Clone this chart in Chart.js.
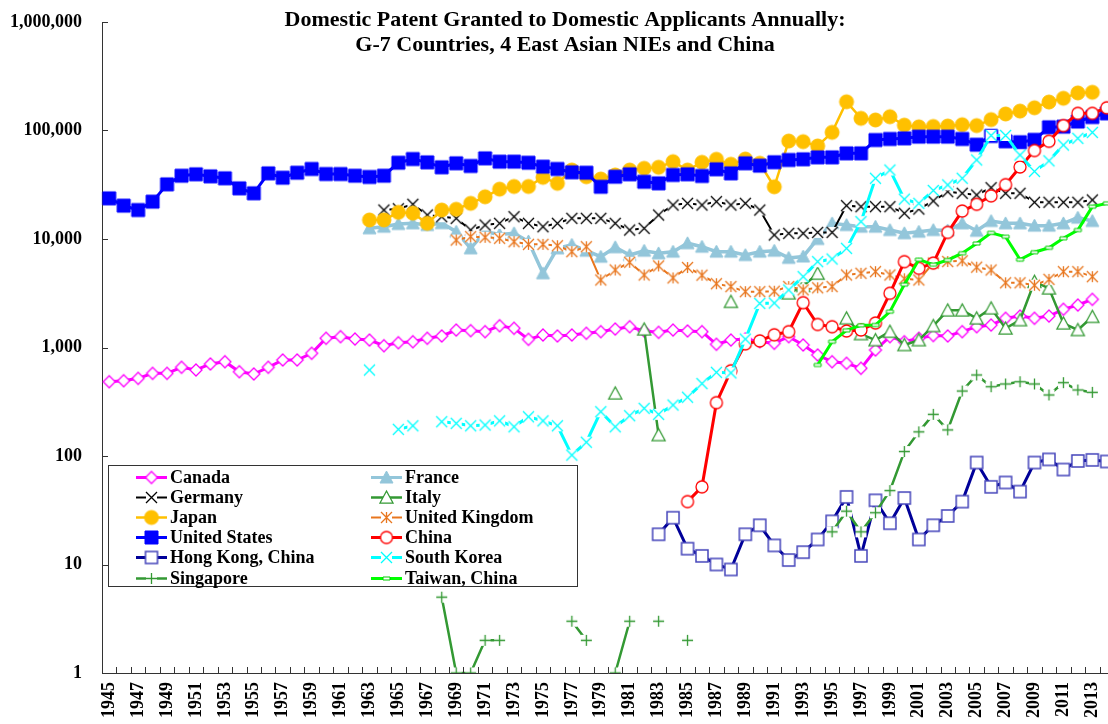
<!DOCTYPE html>
<html lang="en">
<head>
<meta charset="UTF-8">
<title>Domestic Patent Granted to Domestic Applicants Annually</title>
<style>
  html, body { margin: 0; padding: 0; background: #fff; overflow: hidden; }
</style>
</head>
<body>
<!-- plot runs a few pixels past the right edge of the window, as in the original -->
<canvas id="myChart" width="1114" height="724"></canvas>

<script src="https://cdn.jsdelivr.net/npm/chart.js"></script>
<script>
// years on the x axis
const years = [];
for (let y = 1945; y <= 2014; y++) years.push(String(y));

const yTicks = [1, 10, 100, 1000, 10000, 100000, 1000000];

// values; each list starts at the year given in fromYear()
const canada = [484, 494, 520, 578, 578, 657, 621, 705, 740, 598,
  570, 657, 767, 767, 884, 1216, 1258, 1197, 1172, 1039,
  1107, 1130, 1216, 1277, 1449, 1429, 1399, 1588, 1503, 1189,
  1304, 1277, 1304, 1352, 1400, 1480, 1555, 1420, 1380, 1449,
  1420, 1400, 1070, 1172, 1200, 1130, 1093, 1258, 1055, 853,
  740, 715, 643, 948, 1258, 1130, 1216, 1290, 1277, 1399,
  1555, 1610, 1859, 1951, 1859, 1951, 2249, 2464, 2780];
const france = [12550, 12980, 13750, 13950, 13450, 14000, 11670, 8200, 11670, 11000,
  11300, 9500, 4830, 8200, 8840, 7800, 6870, 8400, 7120, 7800,
  7380, 7640, 9140, 8490, 7640, 7640, 7120, 7640, 7800, 6700,
  6900, 10000, 13950, 13450, 12980, 12980, 12100, 11300, 11670, 12100,
  12000, 13950, 11900, 14660, 13950, 13950, 13270, 13270, 13950, 15730, 14660];
const germany = [18500, 19000, 20900, 16640, 16050, 15510, 12100, 13450, 13950, 16050,
  13950, 12980, 13950, 15510, 15510, 15510, 13950, 12100, 12540, 16640,
  20560, 21300, 20560, 22100, 20560, 21300, 18500, 10890, 11270, 11270,
  11500, 11500, 20300, 19860, 19860, 19860, 17260, 18900, 22400, 27300,
  26400, 25450, 29700, 26400, 26400, 21800, 21800, 21800, 21800, 22900];
const italy = [378, null, 1470, 156, null, null, null, null, 2640, null,
  null, null, 3160, 3700, 4800, null, 1860, 1330, 1170, 1400,
  1055, 1170, 1580, 2200, 2200, 1860, 2300, 1500, 1790, 4040,
  3510, 1670, 1450, 1920];
const japan = [14970, 15000, 17600, 17300, 13950, 18500, 18800, 21300, 24500, 28800,
  30500, 30500, 37000, 32600, 43200, 37500, 35700, 38900, 43200, 44800,
  45800, 51600, 43200, 50900, 54300, 48800, 54600, 49900, 30300, 80000,
  78900, 72000, 96200, 184000, 129500, 125000, 134000, 112000, 108000, 109000,
  110000, 113000, 111000, 126000, 142000, 151000, 162000, 183000, 198000, 222000, 225000];
const unitedKingdom = [9790, 10510, 10370, 10150, 9440, 8930, 8930, 8670, 7640, 8490,
  4190, 5180, 6100, 4660, 5650, 4380, 5460, 4640, 3870, 3640,
  3270, 3270, 3300, 3640, 3400, 3550, 3640, 4660, 4830, 5000,
  4660, 4300, 4190, 6000, 6200, 6300, 5500, 5180, 3950, 3950,
  3750, 4250, 5000, 5000, 4500];
const unitedStates = [23700, 20300, 18500, 22100, 31900, 38300, 39500, 37800, 36300, 29300,
  26400, 40300, 36700, 40800, 44200, 39700, 39700, 38300, 37300, 38300,
  50500, 54600, 50900, 45800, 49900, 47100, 55400, 51600, 51600, 50500,
  46400, 44200, 41200, 40800, 30300, 37500, 39500, 33700, 32600, 38900,
  39500, 38100, 43900, 40300, 49900, 47400, 51000, 53500, 54300, 56600,
  56600, 61600, 61600, 81700, 83500, 84700, 87700, 87700, 87700, 83500,
  74000, 89000, 79500, 78000, 82000, 107000, 108500, 121000, 133000, 144000];
const china = [38, 52, 310, 610, 1080, 1150, 1310, 1400, 2590, 1630,
  1555, 1420, 1450, 1680, 3160, 6180, 5370, 6000, 11500, 18100,
  20900, 25000, 31700, 46100, 65400, 79500, 111000, 144000, 144000, 162000];
const hongKong = [19, 27, 14, 12, 10, 9, 19, 23, 15, 11,
  13, 17, 25, 42, 12, 39, 24, 41, 17, 23,
  28, 38, 87, 52, 57, 47, 87, 93, 75, 90, 92, 89];
const southKorea = [620, null, 176, 190, null, 207, 200, 190, 193, 211,
  186, 230, 211, 190, 102, 134, 256, 186, 235, 275,
  242, 295, 348, 465, 590, 583, 1195, 2550, 2570, 3390,
  4500, 6180, 6540, 8200, 14450, 36300, 43200, 23300, 21300, 28000,
  31500, 36300, 53500, 90000, 90000, 59400, 42000, 52500, 73500, 84700, 96000];
const singapore = [5, 1, 1, 2, 2, null, null, null, null, 3,
  2, null, 1, 3, null, 3, null, 2, null, null,
  null, null, null, null, null, null, null, 20, 31, 20,
  30, 48, 110, 167, 242, 174, 397, 558, 435, 461,
  484, 461, 365, 474, 406, 386];
const taiwan = [690, 1130, 1440, 1600, 1610, 2140, 3800, 6450, 5800, 6400,
  7400, 9100, 11400, 10500, 6450, 7550, 8300, 10150, 12100, 19860, 21300];

function fromYear(start, vals) {
  const out = years.map(() => null);
  vals.forEach((v, i) => { out[start - 1945 + i] = v; });
  return out;
}

// Excel-like markers drawn on small canvases
function makeMarker(shape, size, stroke, fill, lw) {
  const pad = Math.ceil(lw) + 1;
  const s = size + pad * 2;
  const c = document.createElement('canvas');
  c.width = s; c.height = s;
  const g = c.getContext('2d');
  const m = s / 2, r = size / 2;
  g.lineWidth = lw;
  g.strokeStyle = stroke;
  g.fillStyle = fill;
  g.beginPath();
  if (shape === 'diamond') {
    g.moveTo(m, m - r); g.lineTo(m + r, m); g.lineTo(m, m + r); g.lineTo(m - r, m); g.closePath();
    g.fill(); g.stroke();
  } else if (shape === 'triangle') {
    g.moveTo(m, m - r); g.lineTo(m + r, m + r * 0.85); g.lineTo(m - r, m + r * 0.85); g.closePath();
    g.fill(); g.stroke();
  } else if (shape === 'circle') {
    g.arc(m, m, r, 0, Math.PI * 2);
    g.fill(); g.stroke();
  } else if (shape === 'square') {
    g.rect(m - r, m - r, size, size);
    g.fill(); g.stroke();
  } else if (shape === 'dash') {
    g.rect(m - r, m - 1.5, size, 3);
    g.fill(); g.stroke();
  } else {
    g.fillStyle = '#fff';
    g.fillRect(m - r, m - r, size, size);
    g.beginPath();
    if (shape === 'x' || shape === 'star') {
      g.moveTo(m - r, m - r); g.lineTo(m + r, m + r);
      g.moveTo(m + r, m - r); g.lineTo(m - r, m + r);
    }
    if (shape === 'plus') {
      g.moveTo(m - r, m); g.lineTo(m + r, m);
    }
    if (shape === 'plus' || shape === 'star') {
      g.moveTo(m, m - r); g.lineTo(m, m + r);
    }
    g.stroke();
  }
  return c;
}

function series(label, start, vals, color, width, marker) {
  return {
    label: label,
    data: fromYear(start, vals),
    borderColor: color,
    backgroundColor: color,
    borderWidth: width,
    pointStyle: marker,
    pointRadius: 5,
    tension: 0,
    spanGaps: false
  };
}

const datasets = [
  series('Canada', 1945, canada, '#FF00FF', 3, makeMarker('diamond', 12, '#FF00FF', '#fff', 1.3)),
  series('France', 1963, france, '#93C6DA', 3.5, makeMarker('triangle', 13, '#93C6DA', '#93C6DA', 1)),
  series('Germany', 1964, germany, '#000000', 2, makeMarker('x', 11, '#000000', '#fff', 1.3)),
  series('Italy', 1980, italy, '#339933', 2.5, makeMarker('triangle', 13, '#339933', '#fff', 1.3)),
  series('Japan', 1963, japan, '#FFC000', 2.5, makeMarker('circle', 14, '#FFC000', '#FFC000', 1)),
  series('United Kingdom', 1969, unitedKingdom, '#E8761E', 2, makeMarker('star', 11, '#E8761E', '#fff', 1.3)),
  series('United States', 1945, unitedStates, '#0000FF', 3, makeMarker('square', 13, '#0000FF', '#0000FF', 1)),
  series('China', 1985, china, '#FF0000', 3, makeMarker('circle', 12, '#FF0000', '#fff', 1.3)),
  series('Hong Kong, China', 1983, hongKong, '#000099', 3, makeMarker('square', 12, '#4444BB', '#fff', 1.5)),
  series('South Korea', 1963, southKorea, '#00FFFF', 3, makeMarker('x', 11, '#00FFFF', '#fff', 1.3)),
  series('Singapore', 1968, singapore, '#339933', 2.5, makeMarker('plus', 11, '#339933', '#fff', 1.3)),
  series('Taiwan, China', 1994, taiwan, '#00FF00', 3, makeMarker('dash', 7, '#00CC00', '#fff', 1))
];
// later series drawn on top, like the original
datasets.forEach((d, i) => { d.order = -i; });

const serif = "'Liberation Serif', 'Times New Roman', serif";

// title, inside ticks and the boxed legend
const decorations = {
  id: 'decorations',
  afterDraw(chart) {
    const ctx = chart.ctx;
    const ys = chart.scales.y;
    const area = chart.chartArea;
    ctx.save();
    ctx.strokeStyle = '#333';
    ctx.lineWidth = 1;
    ctx.beginPath();
    const step = (area.right - area.left) / years.length;
    for (let i = 1; i < years.length; i++) {
      const x = Math.round(area.left + i * step) + 0.5;
      ctx.moveTo(x, area.bottom); ctx.lineTo(x, area.bottom - 6);
    }
    yTicks.forEach(v => {
      const y = Math.round(ys.getPixelForValue(v)) + 0.5;
      ctx.moveTo(area.left, y); ctx.lineTo(area.left + 6, y);
    });
    ctx.stroke();

    // title
    ctx.fillStyle = '#000';
    ctx.font = 'bold 22px ' + serif;
    ctx.textAlign = 'center';
    ctx.textBaseline = 'middle';
    ctx.fillText('Domestic Patent Granted to Domestic Applicants Annually:', 565, 20);
    ctx.fillText('G-7 Countries, 4 East Asian NIEs and China', 565, 45);

    // legend
    ctx.fillStyle = '#fff';
    ctx.fillRect(108, 465, 469, 121);
    ctx.strokeStyle = '#333';
    ctx.strokeRect(108.5, 465.5, 469, 121);
    ctx.font = 'bold 18px ' + serif;
    ctx.textAlign = 'left';
    chart.data.datasets.forEach((d, i) => {
      const col = i % 2, row = Math.floor(i / 2);
      const x1 = col ? 371 : 136, x2 = col ? 402 : 167;
      const y = Math.round(477 + row * 20.1) + 0.5;
      ctx.strokeStyle = d.borderColor;
      ctx.lineWidth = Math.min(d.borderWidth, 3);
      ctx.beginPath();
      ctx.moveTo(x1, y); ctx.lineTo(x2, y);
      ctx.stroke();
      const img = d.pointStyle;
      ctx.drawImage(img, (x1 + x2) / 2 - img.width / 2, y - img.height / 2);
      ctx.fillStyle = '#000';
      ctx.fillText(d.label, x2 + 3, y + 1);
    });
    ctx.restore();
  }
};

const config = {
  type: 'line',
  data: { labels: years, datasets: datasets },
  options: {
    responsive: false,
    animation: false,
    events: [],
    layout: { autoPadding: false, padding: { top: 22, left: 0, right: 0, bottom: 0 } },
    plugins: {
      legend: { display: false },
      title: { display: false },
      tooltip: { enabled: false }
    },
    scales: {
      x: {
        type: 'category',
        offset: true,
        grid: { display: true, drawOnChartArea: false, drawTicks: false, offset: true },
        border: { display: true, color: '#333', width: 1 },
        ticks: {
          autoSkip: false,
          minRotation: 90,
          maxRotation: 90,
          padding: 9,
          color: '#000',
          font: { family: serif, size: 18, weight: 'bold' },
          callback: function (val, idx) { return idx % 2 === 0 ? years[idx] : ''; }
        },
        afterFit: function (scale) {
          scale.height = 51;
          scale.paddingLeft = 0;
          scale.paddingRight = 0;
        }
      },
      y: {
        type: 'logarithmic',
        min: 1,
        max: 1000000,
        grid: { display: true, drawOnChartArea: false, drawTicks: false },
        border: { display: true, color: '#333', width: 1 },
        afterBuildTicks: function (scale) {
          scale.ticks = yTicks.map(v => ({ value: v }));
        },
        ticks: {
          autoSkip: false,
          padding: 20,
          color: '#000',
          font: { family: serif, size: 18, weight: 'bold' },
          callback: function (v) { return Number(v).toLocaleString('en-US'); }
        },
        afterFit: function (scale) {
          scale.width = 102;
          scale.paddingTop = 0;
          scale.paddingBottom = 0;
        }
      }
    }
  },
  plugins: [decorations]
};

const ctx = document.querySelector('#myChart').getContext('2d');
new Chart(ctx, config);
</script>
</body>
</html>
